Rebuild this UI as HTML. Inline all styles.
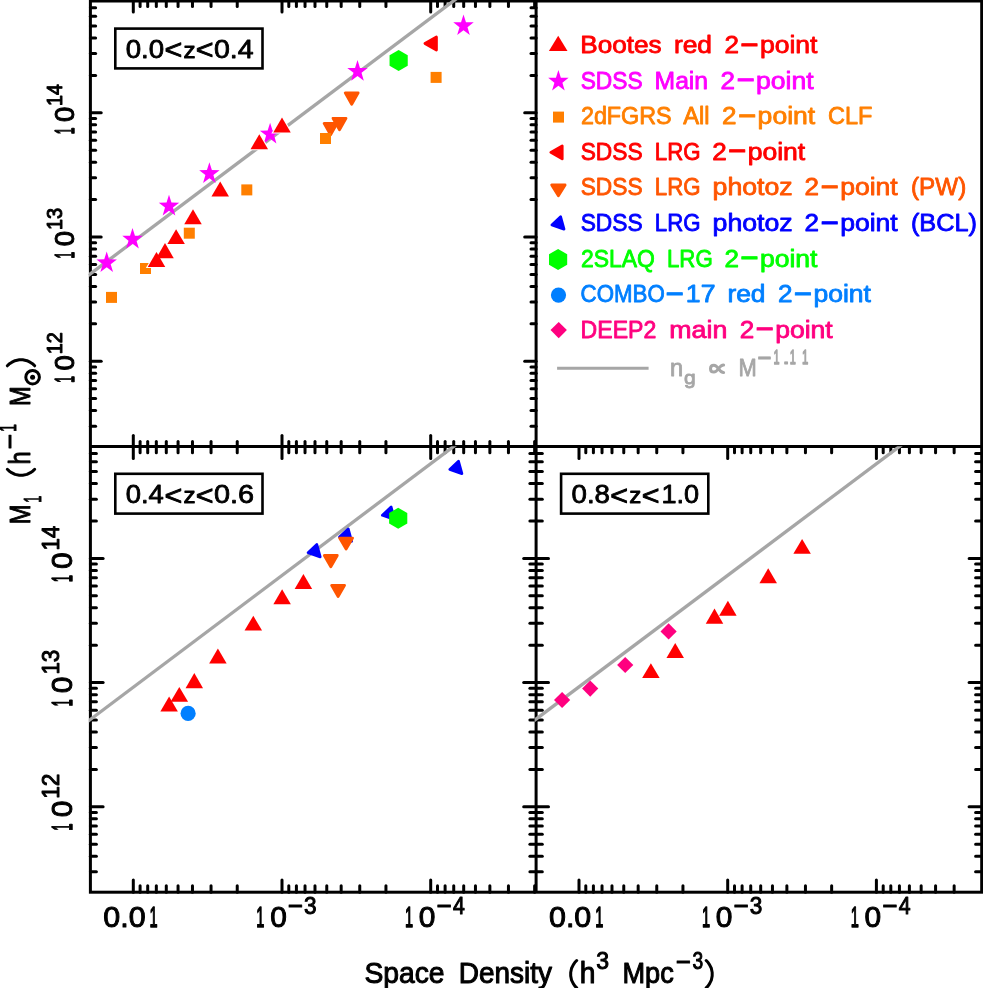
<!DOCTYPE html>
<html><head><meta charset="utf-8"><title>M1 vs Space Density</title>
<style>
html,body{margin:0;padding:0;background:#fff;}
body{width:983px;height:988px;overflow:hidden;position:relative;font-family:"Liberation Sans",sans-serif;}
svg{will-change:transform;}
svg text{font-family:"Liberation Sans",sans-serif;}
</style></head><body>
<svg width="983" height="988" viewBox="0 0 983 988" style="position:absolute;left:0;top:0">
<rect width="983" height="988" fill="#fff"/>
<g id="ticks">
<line x1="133.30" y1="1.00" x2="133.30" y2="12.10" stroke="#000" stroke-width="3.0" stroke-linecap="round"/>
<line x1="133.30" y1="435.50" x2="133.30" y2="458.60" stroke="#000" stroke-width="3.0" stroke-linecap="round"/>
<line x1="133.30" y1="892.20" x2="133.30" y2="879.90" stroke="#000" stroke-width="3.0" stroke-linecap="round"/>
<line x1="282.00" y1="1.00" x2="282.00" y2="12.10" stroke="#000" stroke-width="3.0" stroke-linecap="round"/>
<line x1="282.00" y1="435.50" x2="282.00" y2="458.60" stroke="#000" stroke-width="3.0" stroke-linecap="round"/>
<line x1="282.00" y1="892.20" x2="282.00" y2="879.90" stroke="#000" stroke-width="3.0" stroke-linecap="round"/>
<line x1="237.24" y1="1.00" x2="237.24" y2="6.60" stroke="#000" stroke-width="3.0" stroke-linecap="round"/>
<line x1="237.24" y1="441.40" x2="237.24" y2="452.80" stroke="#000" stroke-width="3.0" stroke-linecap="round"/>
<line x1="237.24" y1="892.20" x2="237.24" y2="885.70" stroke="#000" stroke-width="3.0" stroke-linecap="round"/>
<line x1="211.05" y1="1.00" x2="211.05" y2="6.60" stroke="#000" stroke-width="3.0" stroke-linecap="round"/>
<line x1="211.05" y1="441.40" x2="211.05" y2="452.80" stroke="#000" stroke-width="3.0" stroke-linecap="round"/>
<line x1="211.05" y1="892.20" x2="211.05" y2="885.70" stroke="#000" stroke-width="3.0" stroke-linecap="round"/>
<line x1="192.47" y1="1.00" x2="192.47" y2="6.60" stroke="#000" stroke-width="3.0" stroke-linecap="round"/>
<line x1="192.47" y1="441.40" x2="192.47" y2="452.80" stroke="#000" stroke-width="3.0" stroke-linecap="round"/>
<line x1="192.47" y1="892.20" x2="192.47" y2="885.70" stroke="#000" stroke-width="3.0" stroke-linecap="round"/>
<line x1="178.06" y1="1.00" x2="178.06" y2="6.60" stroke="#000" stroke-width="3.0" stroke-linecap="round"/>
<line x1="178.06" y1="441.40" x2="178.06" y2="452.80" stroke="#000" stroke-width="3.0" stroke-linecap="round"/>
<line x1="178.06" y1="892.20" x2="178.06" y2="885.70" stroke="#000" stroke-width="3.0" stroke-linecap="round"/>
<line x1="166.29" y1="1.00" x2="166.29" y2="6.60" stroke="#000" stroke-width="3.0" stroke-linecap="round"/>
<line x1="166.29" y1="441.40" x2="166.29" y2="452.80" stroke="#000" stroke-width="3.0" stroke-linecap="round"/>
<line x1="166.29" y1="892.20" x2="166.29" y2="885.70" stroke="#000" stroke-width="3.0" stroke-linecap="round"/>
<line x1="156.33" y1="1.00" x2="156.33" y2="6.60" stroke="#000" stroke-width="3.0" stroke-linecap="round"/>
<line x1="156.33" y1="441.40" x2="156.33" y2="452.80" stroke="#000" stroke-width="3.0" stroke-linecap="round"/>
<line x1="156.33" y1="892.20" x2="156.33" y2="885.70" stroke="#000" stroke-width="3.0" stroke-linecap="round"/>
<line x1="147.71" y1="1.00" x2="147.71" y2="6.60" stroke="#000" stroke-width="3.0" stroke-linecap="round"/>
<line x1="147.71" y1="441.40" x2="147.71" y2="452.80" stroke="#000" stroke-width="3.0" stroke-linecap="round"/>
<line x1="147.71" y1="892.20" x2="147.71" y2="885.70" stroke="#000" stroke-width="3.0" stroke-linecap="round"/>
<line x1="140.10" y1="1.00" x2="140.10" y2="6.60" stroke="#000" stroke-width="3.0" stroke-linecap="round"/>
<line x1="140.10" y1="441.40" x2="140.10" y2="452.80" stroke="#000" stroke-width="3.0" stroke-linecap="round"/>
<line x1="140.10" y1="892.20" x2="140.10" y2="885.70" stroke="#000" stroke-width="3.0" stroke-linecap="round"/>
<line x1="430.70" y1="1.00" x2="430.70" y2="12.10" stroke="#000" stroke-width="3.0" stroke-linecap="round"/>
<line x1="430.70" y1="435.50" x2="430.70" y2="458.60" stroke="#000" stroke-width="3.0" stroke-linecap="round"/>
<line x1="430.70" y1="892.20" x2="430.70" y2="879.90" stroke="#000" stroke-width="3.0" stroke-linecap="round"/>
<line x1="385.94" y1="1.00" x2="385.94" y2="6.60" stroke="#000" stroke-width="3.0" stroke-linecap="round"/>
<line x1="385.94" y1="441.40" x2="385.94" y2="452.80" stroke="#000" stroke-width="3.0" stroke-linecap="round"/>
<line x1="385.94" y1="892.20" x2="385.94" y2="885.70" stroke="#000" stroke-width="3.0" stroke-linecap="round"/>
<line x1="359.75" y1="1.00" x2="359.75" y2="6.60" stroke="#000" stroke-width="3.0" stroke-linecap="round"/>
<line x1="359.75" y1="441.40" x2="359.75" y2="452.80" stroke="#000" stroke-width="3.0" stroke-linecap="round"/>
<line x1="359.75" y1="892.20" x2="359.75" y2="885.70" stroke="#000" stroke-width="3.0" stroke-linecap="round"/>
<line x1="341.17" y1="1.00" x2="341.17" y2="6.60" stroke="#000" stroke-width="3.0" stroke-linecap="round"/>
<line x1="341.17" y1="441.40" x2="341.17" y2="452.80" stroke="#000" stroke-width="3.0" stroke-linecap="round"/>
<line x1="341.17" y1="892.20" x2="341.17" y2="885.70" stroke="#000" stroke-width="3.0" stroke-linecap="round"/>
<line x1="326.76" y1="1.00" x2="326.76" y2="6.60" stroke="#000" stroke-width="3.0" stroke-linecap="round"/>
<line x1="326.76" y1="441.40" x2="326.76" y2="452.80" stroke="#000" stroke-width="3.0" stroke-linecap="round"/>
<line x1="326.76" y1="892.20" x2="326.76" y2="885.70" stroke="#000" stroke-width="3.0" stroke-linecap="round"/>
<line x1="314.99" y1="1.00" x2="314.99" y2="6.60" stroke="#000" stroke-width="3.0" stroke-linecap="round"/>
<line x1="314.99" y1="441.40" x2="314.99" y2="452.80" stroke="#000" stroke-width="3.0" stroke-linecap="round"/>
<line x1="314.99" y1="892.20" x2="314.99" y2="885.70" stroke="#000" stroke-width="3.0" stroke-linecap="round"/>
<line x1="305.03" y1="1.00" x2="305.03" y2="6.60" stroke="#000" stroke-width="3.0" stroke-linecap="round"/>
<line x1="305.03" y1="441.40" x2="305.03" y2="452.80" stroke="#000" stroke-width="3.0" stroke-linecap="round"/>
<line x1="305.03" y1="892.20" x2="305.03" y2="885.70" stroke="#000" stroke-width="3.0" stroke-linecap="round"/>
<line x1="296.41" y1="1.00" x2="296.41" y2="6.60" stroke="#000" stroke-width="3.0" stroke-linecap="round"/>
<line x1="296.41" y1="441.40" x2="296.41" y2="452.80" stroke="#000" stroke-width="3.0" stroke-linecap="round"/>
<line x1="296.41" y1="892.20" x2="296.41" y2="885.70" stroke="#000" stroke-width="3.0" stroke-linecap="round"/>
<line x1="288.80" y1="1.00" x2="288.80" y2="6.60" stroke="#000" stroke-width="3.0" stroke-linecap="round"/>
<line x1="288.80" y1="441.40" x2="288.80" y2="452.80" stroke="#000" stroke-width="3.0" stroke-linecap="round"/>
<line x1="288.80" y1="892.20" x2="288.80" y2="885.70" stroke="#000" stroke-width="3.0" stroke-linecap="round"/>
<line x1="534.64" y1="1.00" x2="534.64" y2="6.60" stroke="#000" stroke-width="3.0" stroke-linecap="round"/>
<line x1="534.64" y1="441.40" x2="534.64" y2="452.80" stroke="#000" stroke-width="3.0" stroke-linecap="round"/>
<line x1="534.64" y1="892.20" x2="534.64" y2="885.70" stroke="#000" stroke-width="3.0" stroke-linecap="round"/>
<line x1="508.45" y1="1.00" x2="508.45" y2="6.60" stroke="#000" stroke-width="3.0" stroke-linecap="round"/>
<line x1="508.45" y1="441.40" x2="508.45" y2="452.80" stroke="#000" stroke-width="3.0" stroke-linecap="round"/>
<line x1="508.45" y1="892.20" x2="508.45" y2="885.70" stroke="#000" stroke-width="3.0" stroke-linecap="round"/>
<line x1="489.87" y1="1.00" x2="489.87" y2="6.60" stroke="#000" stroke-width="3.0" stroke-linecap="round"/>
<line x1="489.87" y1="441.40" x2="489.87" y2="452.80" stroke="#000" stroke-width="3.0" stroke-linecap="round"/>
<line x1="489.87" y1="892.20" x2="489.87" y2="885.70" stroke="#000" stroke-width="3.0" stroke-linecap="round"/>
<line x1="475.46" y1="1.00" x2="475.46" y2="6.60" stroke="#000" stroke-width="3.0" stroke-linecap="round"/>
<line x1="475.46" y1="441.40" x2="475.46" y2="452.80" stroke="#000" stroke-width="3.0" stroke-linecap="round"/>
<line x1="475.46" y1="892.20" x2="475.46" y2="885.70" stroke="#000" stroke-width="3.0" stroke-linecap="round"/>
<line x1="463.69" y1="1.00" x2="463.69" y2="6.60" stroke="#000" stroke-width="3.0" stroke-linecap="round"/>
<line x1="463.69" y1="441.40" x2="463.69" y2="452.80" stroke="#000" stroke-width="3.0" stroke-linecap="round"/>
<line x1="463.69" y1="892.20" x2="463.69" y2="885.70" stroke="#000" stroke-width="3.0" stroke-linecap="round"/>
<line x1="453.73" y1="1.00" x2="453.73" y2="6.60" stroke="#000" stroke-width="3.0" stroke-linecap="round"/>
<line x1="453.73" y1="441.40" x2="453.73" y2="452.80" stroke="#000" stroke-width="3.0" stroke-linecap="round"/>
<line x1="453.73" y1="892.20" x2="453.73" y2="885.70" stroke="#000" stroke-width="3.0" stroke-linecap="round"/>
<line x1="445.11" y1="1.00" x2="445.11" y2="6.60" stroke="#000" stroke-width="3.0" stroke-linecap="round"/>
<line x1="445.11" y1="441.40" x2="445.11" y2="452.80" stroke="#000" stroke-width="3.0" stroke-linecap="round"/>
<line x1="445.11" y1="892.20" x2="445.11" y2="885.70" stroke="#000" stroke-width="3.0" stroke-linecap="round"/>
<line x1="437.50" y1="1.00" x2="437.50" y2="6.60" stroke="#000" stroke-width="3.0" stroke-linecap="round"/>
<line x1="437.50" y1="441.40" x2="437.50" y2="452.80" stroke="#000" stroke-width="3.0" stroke-linecap="round"/>
<line x1="437.50" y1="892.20" x2="437.50" y2="885.70" stroke="#000" stroke-width="3.0" stroke-linecap="round"/>
<line x1="579.00" y1="446.60" x2="579.00" y2="458.60" stroke="#000" stroke-width="3.0" stroke-linecap="round"/>
<line x1="579.00" y1="892.20" x2="579.00" y2="879.90" stroke="#000" stroke-width="3.0" stroke-linecap="round"/>
<line x1="727.70" y1="446.60" x2="727.70" y2="458.60" stroke="#000" stroke-width="3.0" stroke-linecap="round"/>
<line x1="727.70" y1="892.20" x2="727.70" y2="879.90" stroke="#000" stroke-width="3.0" stroke-linecap="round"/>
<line x1="682.94" y1="446.60" x2="682.94" y2="452.80" stroke="#000" stroke-width="3.0" stroke-linecap="round"/>
<line x1="682.94" y1="892.20" x2="682.94" y2="885.70" stroke="#000" stroke-width="3.0" stroke-linecap="round"/>
<line x1="656.75" y1="446.60" x2="656.75" y2="452.80" stroke="#000" stroke-width="3.0" stroke-linecap="round"/>
<line x1="656.75" y1="892.20" x2="656.75" y2="885.70" stroke="#000" stroke-width="3.0" stroke-linecap="round"/>
<line x1="638.17" y1="446.60" x2="638.17" y2="452.80" stroke="#000" stroke-width="3.0" stroke-linecap="round"/>
<line x1="638.17" y1="892.20" x2="638.17" y2="885.70" stroke="#000" stroke-width="3.0" stroke-linecap="round"/>
<line x1="623.76" y1="446.60" x2="623.76" y2="452.80" stroke="#000" stroke-width="3.0" stroke-linecap="round"/>
<line x1="623.76" y1="892.20" x2="623.76" y2="885.70" stroke="#000" stroke-width="3.0" stroke-linecap="round"/>
<line x1="611.99" y1="446.60" x2="611.99" y2="452.80" stroke="#000" stroke-width="3.0" stroke-linecap="round"/>
<line x1="611.99" y1="892.20" x2="611.99" y2="885.70" stroke="#000" stroke-width="3.0" stroke-linecap="round"/>
<line x1="602.03" y1="446.60" x2="602.03" y2="452.80" stroke="#000" stroke-width="3.0" stroke-linecap="round"/>
<line x1="602.03" y1="892.20" x2="602.03" y2="885.70" stroke="#000" stroke-width="3.0" stroke-linecap="round"/>
<line x1="593.41" y1="446.60" x2="593.41" y2="452.80" stroke="#000" stroke-width="3.0" stroke-linecap="round"/>
<line x1="593.41" y1="892.20" x2="593.41" y2="885.70" stroke="#000" stroke-width="3.0" stroke-linecap="round"/>
<line x1="585.80" y1="446.60" x2="585.80" y2="452.80" stroke="#000" stroke-width="3.0" stroke-linecap="round"/>
<line x1="585.80" y1="892.20" x2="585.80" y2="885.70" stroke="#000" stroke-width="3.0" stroke-linecap="round"/>
<line x1="876.40" y1="446.60" x2="876.40" y2="458.60" stroke="#000" stroke-width="3.0" stroke-linecap="round"/>
<line x1="876.40" y1="892.20" x2="876.40" y2="879.90" stroke="#000" stroke-width="3.0" stroke-linecap="round"/>
<line x1="831.64" y1="446.60" x2="831.64" y2="452.80" stroke="#000" stroke-width="3.0" stroke-linecap="round"/>
<line x1="831.64" y1="892.20" x2="831.64" y2="885.70" stroke="#000" stroke-width="3.0" stroke-linecap="round"/>
<line x1="805.45" y1="446.60" x2="805.45" y2="452.80" stroke="#000" stroke-width="3.0" stroke-linecap="round"/>
<line x1="805.45" y1="892.20" x2="805.45" y2="885.70" stroke="#000" stroke-width="3.0" stroke-linecap="round"/>
<line x1="786.87" y1="446.60" x2="786.87" y2="452.80" stroke="#000" stroke-width="3.0" stroke-linecap="round"/>
<line x1="786.87" y1="892.20" x2="786.87" y2="885.70" stroke="#000" stroke-width="3.0" stroke-linecap="round"/>
<line x1="772.46" y1="446.60" x2="772.46" y2="452.80" stroke="#000" stroke-width="3.0" stroke-linecap="round"/>
<line x1="772.46" y1="892.20" x2="772.46" y2="885.70" stroke="#000" stroke-width="3.0" stroke-linecap="round"/>
<line x1="760.69" y1="446.60" x2="760.69" y2="452.80" stroke="#000" stroke-width="3.0" stroke-linecap="round"/>
<line x1="760.69" y1="892.20" x2="760.69" y2="885.70" stroke="#000" stroke-width="3.0" stroke-linecap="round"/>
<line x1="750.73" y1="446.60" x2="750.73" y2="452.80" stroke="#000" stroke-width="3.0" stroke-linecap="round"/>
<line x1="750.73" y1="892.20" x2="750.73" y2="885.70" stroke="#000" stroke-width="3.0" stroke-linecap="round"/>
<line x1="742.11" y1="446.60" x2="742.11" y2="452.80" stroke="#000" stroke-width="3.0" stroke-linecap="round"/>
<line x1="742.11" y1="892.20" x2="742.11" y2="885.70" stroke="#000" stroke-width="3.0" stroke-linecap="round"/>
<line x1="734.50" y1="446.60" x2="734.50" y2="452.80" stroke="#000" stroke-width="3.0" stroke-linecap="round"/>
<line x1="734.50" y1="892.20" x2="734.50" y2="885.70" stroke="#000" stroke-width="3.0" stroke-linecap="round"/>
<line x1="954.15" y1="446.60" x2="954.15" y2="452.80" stroke="#000" stroke-width="3.0" stroke-linecap="round"/>
<line x1="954.15" y1="892.20" x2="954.15" y2="885.70" stroke="#000" stroke-width="3.0" stroke-linecap="round"/>
<line x1="935.57" y1="446.60" x2="935.57" y2="452.80" stroke="#000" stroke-width="3.0" stroke-linecap="round"/>
<line x1="935.57" y1="892.20" x2="935.57" y2="885.70" stroke="#000" stroke-width="3.0" stroke-linecap="round"/>
<line x1="921.16" y1="446.60" x2="921.16" y2="452.80" stroke="#000" stroke-width="3.0" stroke-linecap="round"/>
<line x1="921.16" y1="892.20" x2="921.16" y2="885.70" stroke="#000" stroke-width="3.0" stroke-linecap="round"/>
<line x1="909.39" y1="446.60" x2="909.39" y2="452.80" stroke="#000" stroke-width="3.0" stroke-linecap="round"/>
<line x1="909.39" y1="892.20" x2="909.39" y2="885.70" stroke="#000" stroke-width="3.0" stroke-linecap="round"/>
<line x1="899.43" y1="446.60" x2="899.43" y2="452.80" stroke="#000" stroke-width="3.0" stroke-linecap="round"/>
<line x1="899.43" y1="892.20" x2="899.43" y2="885.70" stroke="#000" stroke-width="3.0" stroke-linecap="round"/>
<line x1="890.81" y1="446.60" x2="890.81" y2="452.80" stroke="#000" stroke-width="3.0" stroke-linecap="round"/>
<line x1="890.81" y1="892.20" x2="890.81" y2="885.70" stroke="#000" stroke-width="3.0" stroke-linecap="round"/>
<line x1="883.20" y1="446.60" x2="883.20" y2="452.80" stroke="#000" stroke-width="3.0" stroke-linecap="round"/>
<line x1="883.20" y1="892.20" x2="883.20" y2="885.70" stroke="#000" stroke-width="3.0" stroke-linecap="round"/>
<line x1="90.40" y1="426.14" x2="95.60" y2="426.14" stroke="#000" stroke-width="3.0" stroke-linecap="round"/>
<line x1="536.10" y1="426.14" x2="531.00" y2="426.14" stroke="#000" stroke-width="3.0" stroke-linecap="round"/>
<line x1="90.40" y1="410.62" x2="95.60" y2="410.62" stroke="#000" stroke-width="3.0" stroke-linecap="round"/>
<line x1="536.10" y1="410.62" x2="531.00" y2="410.62" stroke="#000" stroke-width="3.0" stroke-linecap="round"/>
<line x1="90.40" y1="398.59" x2="95.60" y2="398.59" stroke="#000" stroke-width="3.0" stroke-linecap="round"/>
<line x1="536.10" y1="398.59" x2="531.00" y2="398.59" stroke="#000" stroke-width="3.0" stroke-linecap="round"/>
<line x1="90.40" y1="388.75" x2="95.60" y2="388.75" stroke="#000" stroke-width="3.0" stroke-linecap="round"/>
<line x1="536.10" y1="388.75" x2="531.00" y2="388.75" stroke="#000" stroke-width="3.0" stroke-linecap="round"/>
<line x1="90.40" y1="380.44" x2="95.60" y2="380.44" stroke="#000" stroke-width="3.0" stroke-linecap="round"/>
<line x1="536.10" y1="380.44" x2="531.00" y2="380.44" stroke="#000" stroke-width="3.0" stroke-linecap="round"/>
<line x1="90.40" y1="373.24" x2="95.60" y2="373.24" stroke="#000" stroke-width="3.0" stroke-linecap="round"/>
<line x1="536.10" y1="373.24" x2="531.00" y2="373.24" stroke="#000" stroke-width="3.0" stroke-linecap="round"/>
<line x1="90.40" y1="366.88" x2="95.60" y2="366.88" stroke="#000" stroke-width="3.0" stroke-linecap="round"/>
<line x1="536.10" y1="366.88" x2="531.00" y2="366.88" stroke="#000" stroke-width="3.0" stroke-linecap="round"/>
<line x1="90.40" y1="361.20" x2="101.20" y2="361.20" stroke="#000" stroke-width="3.0" stroke-linecap="round"/>
<line x1="536.10" y1="361.20" x2="524.70" y2="361.20" stroke="#000" stroke-width="3.0" stroke-linecap="round"/>
<line x1="90.40" y1="323.81" x2="95.60" y2="323.81" stroke="#000" stroke-width="3.0" stroke-linecap="round"/>
<line x1="536.10" y1="323.81" x2="531.00" y2="323.81" stroke="#000" stroke-width="3.0" stroke-linecap="round"/>
<line x1="90.40" y1="301.94" x2="95.60" y2="301.94" stroke="#000" stroke-width="3.0" stroke-linecap="round"/>
<line x1="536.10" y1="301.94" x2="531.00" y2="301.94" stroke="#000" stroke-width="3.0" stroke-linecap="round"/>
<line x1="90.40" y1="286.42" x2="95.60" y2="286.42" stroke="#000" stroke-width="3.0" stroke-linecap="round"/>
<line x1="536.10" y1="286.42" x2="531.00" y2="286.42" stroke="#000" stroke-width="3.0" stroke-linecap="round"/>
<line x1="90.40" y1="274.39" x2="95.60" y2="274.39" stroke="#000" stroke-width="3.0" stroke-linecap="round"/>
<line x1="536.10" y1="274.39" x2="531.00" y2="274.39" stroke="#000" stroke-width="3.0" stroke-linecap="round"/>
<line x1="90.40" y1="264.55" x2="95.60" y2="264.55" stroke="#000" stroke-width="3.0" stroke-linecap="round"/>
<line x1="536.10" y1="264.55" x2="531.00" y2="264.55" stroke="#000" stroke-width="3.0" stroke-linecap="round"/>
<line x1="90.40" y1="256.24" x2="95.60" y2="256.24" stroke="#000" stroke-width="3.0" stroke-linecap="round"/>
<line x1="536.10" y1="256.24" x2="531.00" y2="256.24" stroke="#000" stroke-width="3.0" stroke-linecap="round"/>
<line x1="90.40" y1="249.04" x2="95.60" y2="249.04" stroke="#000" stroke-width="3.0" stroke-linecap="round"/>
<line x1="536.10" y1="249.04" x2="531.00" y2="249.04" stroke="#000" stroke-width="3.0" stroke-linecap="round"/>
<line x1="90.40" y1="242.68" x2="95.60" y2="242.68" stroke="#000" stroke-width="3.0" stroke-linecap="round"/>
<line x1="536.10" y1="242.68" x2="531.00" y2="242.68" stroke="#000" stroke-width="3.0" stroke-linecap="round"/>
<line x1="90.40" y1="237.00" x2="101.20" y2="237.00" stroke="#000" stroke-width="3.0" stroke-linecap="round"/>
<line x1="536.10" y1="237.00" x2="524.70" y2="237.00" stroke="#000" stroke-width="3.0" stroke-linecap="round"/>
<line x1="90.40" y1="199.61" x2="95.60" y2="199.61" stroke="#000" stroke-width="3.0" stroke-linecap="round"/>
<line x1="536.10" y1="199.61" x2="531.00" y2="199.61" stroke="#000" stroke-width="3.0" stroke-linecap="round"/>
<line x1="90.40" y1="177.74" x2="95.60" y2="177.74" stroke="#000" stroke-width="3.0" stroke-linecap="round"/>
<line x1="536.10" y1="177.74" x2="531.00" y2="177.74" stroke="#000" stroke-width="3.0" stroke-linecap="round"/>
<line x1="90.40" y1="162.22" x2="95.60" y2="162.22" stroke="#000" stroke-width="3.0" stroke-linecap="round"/>
<line x1="536.10" y1="162.22" x2="531.00" y2="162.22" stroke="#000" stroke-width="3.0" stroke-linecap="round"/>
<line x1="90.40" y1="150.19" x2="95.60" y2="150.19" stroke="#000" stroke-width="3.0" stroke-linecap="round"/>
<line x1="536.10" y1="150.19" x2="531.00" y2="150.19" stroke="#000" stroke-width="3.0" stroke-linecap="round"/>
<line x1="90.40" y1="140.35" x2="95.60" y2="140.35" stroke="#000" stroke-width="3.0" stroke-linecap="round"/>
<line x1="536.10" y1="140.35" x2="531.00" y2="140.35" stroke="#000" stroke-width="3.0" stroke-linecap="round"/>
<line x1="90.40" y1="132.04" x2="95.60" y2="132.04" stroke="#000" stroke-width="3.0" stroke-linecap="round"/>
<line x1="536.10" y1="132.04" x2="531.00" y2="132.04" stroke="#000" stroke-width="3.0" stroke-linecap="round"/>
<line x1="90.40" y1="124.84" x2="95.60" y2="124.84" stroke="#000" stroke-width="3.0" stroke-linecap="round"/>
<line x1="536.10" y1="124.84" x2="531.00" y2="124.84" stroke="#000" stroke-width="3.0" stroke-linecap="round"/>
<line x1="90.40" y1="118.48" x2="95.60" y2="118.48" stroke="#000" stroke-width="3.0" stroke-linecap="round"/>
<line x1="536.10" y1="118.48" x2="531.00" y2="118.48" stroke="#000" stroke-width="3.0" stroke-linecap="round"/>
<line x1="90.40" y1="112.80" x2="101.20" y2="112.80" stroke="#000" stroke-width="3.0" stroke-linecap="round"/>
<line x1="536.10" y1="112.80" x2="524.70" y2="112.80" stroke="#000" stroke-width="3.0" stroke-linecap="round"/>
<line x1="90.40" y1="75.41" x2="95.60" y2="75.41" stroke="#000" stroke-width="3.0" stroke-linecap="round"/>
<line x1="536.10" y1="75.41" x2="531.00" y2="75.41" stroke="#000" stroke-width="3.0" stroke-linecap="round"/>
<line x1="90.40" y1="53.54" x2="95.60" y2="53.54" stroke="#000" stroke-width="3.0" stroke-linecap="round"/>
<line x1="536.10" y1="53.54" x2="531.00" y2="53.54" stroke="#000" stroke-width="3.0" stroke-linecap="round"/>
<line x1="90.40" y1="38.02" x2="95.60" y2="38.02" stroke="#000" stroke-width="3.0" stroke-linecap="round"/>
<line x1="536.10" y1="38.02" x2="531.00" y2="38.02" stroke="#000" stroke-width="3.0" stroke-linecap="round"/>
<line x1="90.40" y1="25.99" x2="95.60" y2="25.99" stroke="#000" stroke-width="3.0" stroke-linecap="round"/>
<line x1="536.10" y1="25.99" x2="531.00" y2="25.99" stroke="#000" stroke-width="3.0" stroke-linecap="round"/>
<line x1="90.40" y1="16.15" x2="95.60" y2="16.15" stroke="#000" stroke-width="3.0" stroke-linecap="round"/>
<line x1="536.10" y1="16.15" x2="531.00" y2="16.15" stroke="#000" stroke-width="3.0" stroke-linecap="round"/>
<line x1="90.40" y1="7.84" x2="95.60" y2="7.84" stroke="#000" stroke-width="3.0" stroke-linecap="round"/>
<line x1="536.10" y1="7.84" x2="531.00" y2="7.84" stroke="#000" stroke-width="3.0" stroke-linecap="round"/>
<line x1="90.40" y1="871.74" x2="96.40" y2="871.74" stroke="#000" stroke-width="3.0" stroke-linecap="round"/>
<line x1="529.90" y1="871.74" x2="542.30" y2="871.74" stroke="#000" stroke-width="3.0" stroke-linecap="round"/>
<line x1="981.70" y1="871.74" x2="975.60" y2="871.74" stroke="#000" stroke-width="3.0" stroke-linecap="round"/>
<line x1="90.40" y1="856.22" x2="96.40" y2="856.22" stroke="#000" stroke-width="3.0" stroke-linecap="round"/>
<line x1="529.90" y1="856.22" x2="542.30" y2="856.22" stroke="#000" stroke-width="3.0" stroke-linecap="round"/>
<line x1="981.70" y1="856.22" x2="975.60" y2="856.22" stroke="#000" stroke-width="3.0" stroke-linecap="round"/>
<line x1="90.40" y1="844.19" x2="96.40" y2="844.19" stroke="#000" stroke-width="3.0" stroke-linecap="round"/>
<line x1="529.90" y1="844.19" x2="542.30" y2="844.19" stroke="#000" stroke-width="3.0" stroke-linecap="round"/>
<line x1="981.70" y1="844.19" x2="975.60" y2="844.19" stroke="#000" stroke-width="3.0" stroke-linecap="round"/>
<line x1="90.40" y1="834.35" x2="96.40" y2="834.35" stroke="#000" stroke-width="3.0" stroke-linecap="round"/>
<line x1="529.90" y1="834.35" x2="542.30" y2="834.35" stroke="#000" stroke-width="3.0" stroke-linecap="round"/>
<line x1="981.70" y1="834.35" x2="975.60" y2="834.35" stroke="#000" stroke-width="3.0" stroke-linecap="round"/>
<line x1="90.40" y1="826.04" x2="96.40" y2="826.04" stroke="#000" stroke-width="3.0" stroke-linecap="round"/>
<line x1="529.90" y1="826.04" x2="542.30" y2="826.04" stroke="#000" stroke-width="3.0" stroke-linecap="round"/>
<line x1="981.70" y1="826.04" x2="975.60" y2="826.04" stroke="#000" stroke-width="3.0" stroke-linecap="round"/>
<line x1="90.40" y1="818.84" x2="96.40" y2="818.84" stroke="#000" stroke-width="3.0" stroke-linecap="round"/>
<line x1="529.90" y1="818.84" x2="542.30" y2="818.84" stroke="#000" stroke-width="3.0" stroke-linecap="round"/>
<line x1="981.70" y1="818.84" x2="975.60" y2="818.84" stroke="#000" stroke-width="3.0" stroke-linecap="round"/>
<line x1="90.40" y1="812.48" x2="96.40" y2="812.48" stroke="#000" stroke-width="3.0" stroke-linecap="round"/>
<line x1="529.90" y1="812.48" x2="542.30" y2="812.48" stroke="#000" stroke-width="3.0" stroke-linecap="round"/>
<line x1="981.70" y1="812.48" x2="975.60" y2="812.48" stroke="#000" stroke-width="3.0" stroke-linecap="round"/>
<line x1="90.40" y1="806.80" x2="103.10" y2="806.80" stroke="#000" stroke-width="3.0" stroke-linecap="round"/>
<line x1="523.70" y1="806.80" x2="548.50" y2="806.80" stroke="#000" stroke-width="3.0" stroke-linecap="round"/>
<line x1="981.70" y1="806.80" x2="969.10" y2="806.80" stroke="#000" stroke-width="3.0" stroke-linecap="round"/>
<line x1="90.40" y1="769.41" x2="96.40" y2="769.41" stroke="#000" stroke-width="3.0" stroke-linecap="round"/>
<line x1="529.90" y1="769.41" x2="542.30" y2="769.41" stroke="#000" stroke-width="3.0" stroke-linecap="round"/>
<line x1="981.70" y1="769.41" x2="975.60" y2="769.41" stroke="#000" stroke-width="3.0" stroke-linecap="round"/>
<line x1="90.40" y1="747.54" x2="96.40" y2="747.54" stroke="#000" stroke-width="3.0" stroke-linecap="round"/>
<line x1="529.90" y1="747.54" x2="542.30" y2="747.54" stroke="#000" stroke-width="3.0" stroke-linecap="round"/>
<line x1="981.70" y1="747.54" x2="975.60" y2="747.54" stroke="#000" stroke-width="3.0" stroke-linecap="round"/>
<line x1="90.40" y1="732.02" x2="96.40" y2="732.02" stroke="#000" stroke-width="3.0" stroke-linecap="round"/>
<line x1="529.90" y1="732.02" x2="542.30" y2="732.02" stroke="#000" stroke-width="3.0" stroke-linecap="round"/>
<line x1="981.70" y1="732.02" x2="975.60" y2="732.02" stroke="#000" stroke-width="3.0" stroke-linecap="round"/>
<line x1="90.40" y1="719.99" x2="96.40" y2="719.99" stroke="#000" stroke-width="3.0" stroke-linecap="round"/>
<line x1="529.90" y1="719.99" x2="542.30" y2="719.99" stroke="#000" stroke-width="3.0" stroke-linecap="round"/>
<line x1="981.70" y1="719.99" x2="975.60" y2="719.99" stroke="#000" stroke-width="3.0" stroke-linecap="round"/>
<line x1="90.40" y1="710.15" x2="96.40" y2="710.15" stroke="#000" stroke-width="3.0" stroke-linecap="round"/>
<line x1="529.90" y1="710.15" x2="542.30" y2="710.15" stroke="#000" stroke-width="3.0" stroke-linecap="round"/>
<line x1="981.70" y1="710.15" x2="975.60" y2="710.15" stroke="#000" stroke-width="3.0" stroke-linecap="round"/>
<line x1="90.40" y1="701.84" x2="96.40" y2="701.84" stroke="#000" stroke-width="3.0" stroke-linecap="round"/>
<line x1="529.90" y1="701.84" x2="542.30" y2="701.84" stroke="#000" stroke-width="3.0" stroke-linecap="round"/>
<line x1="981.70" y1="701.84" x2="975.60" y2="701.84" stroke="#000" stroke-width="3.0" stroke-linecap="round"/>
<line x1="90.40" y1="694.64" x2="96.40" y2="694.64" stroke="#000" stroke-width="3.0" stroke-linecap="round"/>
<line x1="529.90" y1="694.64" x2="542.30" y2="694.64" stroke="#000" stroke-width="3.0" stroke-linecap="round"/>
<line x1="981.70" y1="694.64" x2="975.60" y2="694.64" stroke="#000" stroke-width="3.0" stroke-linecap="round"/>
<line x1="90.40" y1="688.28" x2="96.40" y2="688.28" stroke="#000" stroke-width="3.0" stroke-linecap="round"/>
<line x1="529.90" y1="688.28" x2="542.30" y2="688.28" stroke="#000" stroke-width="3.0" stroke-linecap="round"/>
<line x1="981.70" y1="688.28" x2="975.60" y2="688.28" stroke="#000" stroke-width="3.0" stroke-linecap="round"/>
<line x1="90.40" y1="682.60" x2="103.10" y2="682.60" stroke="#000" stroke-width="3.0" stroke-linecap="round"/>
<line x1="523.70" y1="682.60" x2="548.50" y2="682.60" stroke="#000" stroke-width="3.0" stroke-linecap="round"/>
<line x1="981.70" y1="682.60" x2="969.10" y2="682.60" stroke="#000" stroke-width="3.0" stroke-linecap="round"/>
<line x1="90.40" y1="645.21" x2="96.40" y2="645.21" stroke="#000" stroke-width="3.0" stroke-linecap="round"/>
<line x1="529.90" y1="645.21" x2="542.30" y2="645.21" stroke="#000" stroke-width="3.0" stroke-linecap="round"/>
<line x1="981.70" y1="645.21" x2="975.60" y2="645.21" stroke="#000" stroke-width="3.0" stroke-linecap="round"/>
<line x1="90.40" y1="623.34" x2="96.40" y2="623.34" stroke="#000" stroke-width="3.0" stroke-linecap="round"/>
<line x1="529.90" y1="623.34" x2="542.30" y2="623.34" stroke="#000" stroke-width="3.0" stroke-linecap="round"/>
<line x1="981.70" y1="623.34" x2="975.60" y2="623.34" stroke="#000" stroke-width="3.0" stroke-linecap="round"/>
<line x1="90.40" y1="607.82" x2="96.40" y2="607.82" stroke="#000" stroke-width="3.0" stroke-linecap="round"/>
<line x1="529.90" y1="607.82" x2="542.30" y2="607.82" stroke="#000" stroke-width="3.0" stroke-linecap="round"/>
<line x1="981.70" y1="607.82" x2="975.60" y2="607.82" stroke="#000" stroke-width="3.0" stroke-linecap="round"/>
<line x1="90.40" y1="595.79" x2="96.40" y2="595.79" stroke="#000" stroke-width="3.0" stroke-linecap="round"/>
<line x1="529.90" y1="595.79" x2="542.30" y2="595.79" stroke="#000" stroke-width="3.0" stroke-linecap="round"/>
<line x1="981.70" y1="595.79" x2="975.60" y2="595.79" stroke="#000" stroke-width="3.0" stroke-linecap="round"/>
<line x1="90.40" y1="585.95" x2="96.40" y2="585.95" stroke="#000" stroke-width="3.0" stroke-linecap="round"/>
<line x1="529.90" y1="585.95" x2="542.30" y2="585.95" stroke="#000" stroke-width="3.0" stroke-linecap="round"/>
<line x1="981.70" y1="585.95" x2="975.60" y2="585.95" stroke="#000" stroke-width="3.0" stroke-linecap="round"/>
<line x1="90.40" y1="577.64" x2="96.40" y2="577.64" stroke="#000" stroke-width="3.0" stroke-linecap="round"/>
<line x1="529.90" y1="577.64" x2="542.30" y2="577.64" stroke="#000" stroke-width="3.0" stroke-linecap="round"/>
<line x1="981.70" y1="577.64" x2="975.60" y2="577.64" stroke="#000" stroke-width="3.0" stroke-linecap="round"/>
<line x1="90.40" y1="570.44" x2="96.40" y2="570.44" stroke="#000" stroke-width="3.0" stroke-linecap="round"/>
<line x1="529.90" y1="570.44" x2="542.30" y2="570.44" stroke="#000" stroke-width="3.0" stroke-linecap="round"/>
<line x1="981.70" y1="570.44" x2="975.60" y2="570.44" stroke="#000" stroke-width="3.0" stroke-linecap="round"/>
<line x1="90.40" y1="564.08" x2="96.40" y2="564.08" stroke="#000" stroke-width="3.0" stroke-linecap="round"/>
<line x1="529.90" y1="564.08" x2="542.30" y2="564.08" stroke="#000" stroke-width="3.0" stroke-linecap="round"/>
<line x1="981.70" y1="564.08" x2="975.60" y2="564.08" stroke="#000" stroke-width="3.0" stroke-linecap="round"/>
<line x1="90.40" y1="558.40" x2="103.10" y2="558.40" stroke="#000" stroke-width="3.0" stroke-linecap="round"/>
<line x1="523.70" y1="558.40" x2="548.50" y2="558.40" stroke="#000" stroke-width="3.0" stroke-linecap="round"/>
<line x1="981.70" y1="558.40" x2="969.10" y2="558.40" stroke="#000" stroke-width="3.0" stroke-linecap="round"/>
<line x1="90.40" y1="521.01" x2="96.40" y2="521.01" stroke="#000" stroke-width="3.0" stroke-linecap="round"/>
<line x1="529.90" y1="521.01" x2="542.30" y2="521.01" stroke="#000" stroke-width="3.0" stroke-linecap="round"/>
<line x1="981.70" y1="521.01" x2="975.60" y2="521.01" stroke="#000" stroke-width="3.0" stroke-linecap="round"/>
<line x1="90.40" y1="499.14" x2="96.40" y2="499.14" stroke="#000" stroke-width="3.0" stroke-linecap="round"/>
<line x1="529.90" y1="499.14" x2="542.30" y2="499.14" stroke="#000" stroke-width="3.0" stroke-linecap="round"/>
<line x1="981.70" y1="499.14" x2="975.60" y2="499.14" stroke="#000" stroke-width="3.0" stroke-linecap="round"/>
<line x1="90.40" y1="483.62" x2="96.40" y2="483.62" stroke="#000" stroke-width="3.0" stroke-linecap="round"/>
<line x1="529.90" y1="483.62" x2="542.30" y2="483.62" stroke="#000" stroke-width="3.0" stroke-linecap="round"/>
<line x1="981.70" y1="483.62" x2="975.60" y2="483.62" stroke="#000" stroke-width="3.0" stroke-linecap="round"/>
<line x1="90.40" y1="471.59" x2="96.40" y2="471.59" stroke="#000" stroke-width="3.0" stroke-linecap="round"/>
<line x1="529.90" y1="471.59" x2="542.30" y2="471.59" stroke="#000" stroke-width="3.0" stroke-linecap="round"/>
<line x1="981.70" y1="471.59" x2="975.60" y2="471.59" stroke="#000" stroke-width="3.0" stroke-linecap="round"/>
<line x1="90.40" y1="461.75" x2="96.40" y2="461.75" stroke="#000" stroke-width="3.0" stroke-linecap="round"/>
<line x1="529.90" y1="461.75" x2="542.30" y2="461.75" stroke="#000" stroke-width="3.0" stroke-linecap="round"/>
<line x1="981.70" y1="461.75" x2="975.60" y2="461.75" stroke="#000" stroke-width="3.0" stroke-linecap="round"/>
<line x1="90.40" y1="453.44" x2="96.40" y2="453.44" stroke="#000" stroke-width="3.0" stroke-linecap="round"/>
<line x1="529.90" y1="453.44" x2="542.30" y2="453.44" stroke="#000" stroke-width="3.0" stroke-linecap="round"/>
<line x1="981.70" y1="453.44" x2="975.60" y2="453.44" stroke="#000" stroke-width="3.0" stroke-linecap="round"/>
</g>
<rect x="90.4" y="1.0" width="891.30" height="891.20" fill="none" stroke="#000" stroke-width="3.0"/>
<line x1="536.10" y1="1.00" x2="536.10" y2="892.20" stroke="#000" stroke-width="3.0" stroke-linecap="butt"/>
<line x1="90.40" y1="446.60" x2="981.70" y2="446.60" stroke="#000" stroke-width="3.0" stroke-linecap="butt"/>
<defs>
<clipPath id="cA"><rect x="88.9" y="-0.5" width="448.70000000000005" height="448.6"/></clipPath>
<clipPath id="cB"><rect x="88.9" y="446.20000000000005" width="448.70000000000005" height="448.6"/></clipPath>
<clipPath id="cC"><rect x="534.6" y="446.20000000000005" width="448.70000000000005" height="448.6"/></clipPath>
</defs>
<g id="lines">
<line x1="79.50" y1="282.01" x2="481.38" y2="-20.00" stroke="#a6a6a6" stroke-width="3.3" clip-path="url(#cA)"/>
<line x1="79.50" y1="727.62" x2="480.05" y2="426.60" stroke="#a6a6a6" stroke-width="3.3" clip-path="url(#cB)"/>
<line x1="525.70" y1="726.80" x2="925.97" y2="426.60" stroke="#a6a6a6" stroke-width="3.3" clip-path="url(#cC)"/>
</g>
<g id="panelA">
<rect x="106.00" y="291.90" width="11.0" height="11.0" fill="#ff7f00"/>
<rect x="140.00" y="263.00" width="11.0" height="11.0" fill="#ff7f00"/>
<rect x="183.80" y="227.70" width="11.0" height="11.0" fill="#ff7f00"/>
<rect x="241.30" y="184.40" width="11.0" height="11.0" fill="#ff7f00"/>
<rect x="430.60" y="71.90" width="11.0" height="11.0" fill="#ff7f00"/>
<polygon points="106.70,251.50 109.16,259.30 116.92,259.38 110.69,264.27 113.02,272.12 106.70,267.35 100.38,272.12 102.71,264.27 96.48,259.38 104.24,259.30" fill="#ff00ff"/>
<polygon points="132.50,227.90 134.96,235.70 142.72,235.78 136.49,240.67 138.82,248.52 132.50,243.75 126.18,248.52 128.51,240.67 122.28,235.78 130.04,235.70" fill="#ff00ff"/>
<polygon points="169.00,194.80 171.46,202.60 179.22,202.68 172.99,207.57 175.32,215.42 169.00,210.65 162.68,215.42 165.01,207.57 158.78,202.68 166.54,202.60" fill="#ff00ff"/>
<polygon points="209.40,162.30 211.86,170.10 219.62,170.18 213.39,175.07 215.72,182.92 209.40,178.15 203.08,182.92 205.41,175.07 199.18,170.18 206.94,170.10" fill="#ff00ff"/>
<polygon points="270.10,122.80 272.56,130.60 280.32,130.68 274.09,135.57 276.42,143.42 270.10,138.65 263.78,143.42 266.11,135.57 259.88,130.68 267.64,130.60" fill="#ff00ff"/>
<polygon points="357.50,60.10 359.96,67.90 367.72,67.98 361.49,72.87 363.82,80.72 357.50,75.95 351.18,80.72 353.51,72.87 347.28,67.98 355.04,67.90" fill="#ff00ff"/>
<polygon points="463.50,14.40 465.96,22.20 473.72,22.28 467.49,27.17 469.82,35.02 463.50,30.25 457.18,35.02 459.51,27.17 453.28,22.28 461.04,22.20" fill="#ff00ff"/>
<polygon points="324.11,123.41 337.09,123.41 330.60,134.78" fill="#ff5500" stroke="#ff5500" stroke-width="2.8" stroke-linejoin="round"/>
<polygon points="333.00,118.31 346.00,118.31 339.50,129.77" fill="#ff5500" stroke="#ff5500" stroke-width="2.8" stroke-linejoin="round"/>
<polygon points="345.22,92.90 358.18,92.90 351.70,104.19" fill="#ff5500" stroke="#ff5500" stroke-width="2.8" stroke-linejoin="round"/>
<rect x="320.00" y="133.00" width="11.0" height="11.0" fill="#ff7f00"/>
<polygon points="424.93,43.52 436.43,37.09 436.43,50.09" fill="#ff0000" stroke="#ff0000" stroke-width="2.8" stroke-linejoin="round"/>
<polygon points="398.65,50.00 407.74,55.25 407.74,65.75 398.65,71.00 389.56,65.75 389.56,55.25" fill="#00ff00"/>
<polygon points="156.50,251.90 165.25,266.90 147.75,266.90" fill="#fff" stroke="#fff" stroke-width="2.2" stroke-linejoin="miter"/>
<polygon points="165.00,243.10 173.75,258.20 156.25,258.20" fill="#fff" stroke="#fff" stroke-width="2.2" stroke-linejoin="miter"/>
<polygon points="176.10,229.20 184.85,244.10 167.35,244.10" fill="#fff" stroke="#fff" stroke-width="2.2" stroke-linejoin="miter"/>
<polygon points="193.00,209.30 201.75,224.20 184.25,224.20" fill="#fff" stroke="#fff" stroke-width="2.2" stroke-linejoin="miter"/>
<polygon points="220.20,181.60 228.95,196.40 211.45,196.40" fill="#fff" stroke="#fff" stroke-width="2.2" stroke-linejoin="miter"/>
<polygon points="259.30,134.20 268.05,149.20 250.55,149.20" fill="#fff" stroke="#fff" stroke-width="2.2" stroke-linejoin="miter"/>
<polygon points="282.00,117.60 290.75,132.50 273.25,132.50" fill="#fff" stroke="#fff" stroke-width="2.2" stroke-linejoin="miter"/>
<polygon points="156.50,251.90 165.25,266.90 147.75,266.90" fill="#ff0000"/>
<polygon points="165.00,243.10 173.75,258.20 156.25,258.20" fill="#ff0000"/>
<polygon points="176.10,229.20 184.85,244.10 167.35,244.10" fill="#ff0000"/>
<polygon points="193.00,209.30 201.75,224.20 184.25,224.20" fill="#ff0000"/>
<polygon points="220.20,181.60 228.95,196.40 211.45,196.40" fill="#ff0000"/>
<polygon points="259.30,134.20 268.05,149.20 250.55,149.20" fill="#ff0000"/>
<polygon points="282.00,117.60 290.75,132.50 273.25,132.50" fill="#ff0000"/>
</g>
<g id="panelB">
<polygon points="308.10,552.73 316.81,544.57 320.19,556.89" fill="#0000ff" stroke="#0000ff" stroke-width="2.8" stroke-linejoin="round"/>
<polygon points="339.50,537.13 348.21,528.97 351.59,541.29" fill="#0000ff" stroke="#0000ff" stroke-width="2.8" stroke-linejoin="round"/>
<polygon points="382.40,515.23 391.11,507.07 394.49,519.39" fill="#0000ff" stroke="#0000ff" stroke-width="2.8" stroke-linejoin="round"/>
<polygon points="449.80,469.43 458.51,461.27 461.89,473.59" fill="#0000ff" stroke="#0000ff" stroke-width="2.8" stroke-linejoin="round"/>
<polygon points="331.63,585.40 344.57,585.40 338.10,596.60" fill="#ff5500" stroke="#ff5500" stroke-width="2.8" stroke-linejoin="round"/>
<polygon points="324.33,555.50 337.27,555.50 330.80,566.70" fill="#ff5500" stroke="#ff5500" stroke-width="2.8" stroke-linejoin="round"/>
<polygon points="339.64,538.09 352.56,538.09 346.10,549.12" fill="#ff5500" stroke="#ff5500" stroke-width="2.8" stroke-linejoin="round"/>
<polygon points="398.20,507.80 407.29,513.05 407.29,523.55 398.20,528.80 389.11,523.55 389.11,513.05" fill="#00ff00"/>
<circle cx="188.1" cy="713.4" r="7.6" fill="#007fff"/>
<polygon points="169.10,696.40 177.85,711.50 160.35,711.50" fill="#fff" stroke="#fff" stroke-width="2.2" stroke-linejoin="miter"/>
<polygon points="179.30,686.90 188.05,701.80 170.55,701.80" fill="#fff" stroke="#fff" stroke-width="2.2" stroke-linejoin="miter"/>
<polygon points="194.30,673.10 203.05,688.20 185.55,688.20" fill="#fff" stroke="#fff" stroke-width="2.2" stroke-linejoin="miter"/>
<polygon points="217.90,648.60 226.65,663.60 209.15,663.60" fill="#fff" stroke="#fff" stroke-width="2.2" stroke-linejoin="miter"/>
<polygon points="253.30,615.70 262.05,630.40 244.55,630.40" fill="#fff" stroke="#fff" stroke-width="2.2" stroke-linejoin="miter"/>
<polygon points="282.10,589.30 290.85,604.30 273.35,604.30" fill="#fff" stroke="#fff" stroke-width="2.2" stroke-linejoin="miter"/>
<polygon points="303.40,574.00 312.15,588.90 294.65,588.90" fill="#fff" stroke="#fff" stroke-width="2.2" stroke-linejoin="miter"/>
<polygon points="169.10,696.40 177.85,711.50 160.35,711.50" fill="#ff0000"/>
<polygon points="179.30,686.90 188.05,701.80 170.55,701.80" fill="#ff0000"/>
<polygon points="194.30,673.10 203.05,688.20 185.55,688.20" fill="#ff0000"/>
<polygon points="217.90,648.60 226.65,663.60 209.15,663.60" fill="#ff0000"/>
<polygon points="253.30,615.70 262.05,630.40 244.55,630.40" fill="#ff0000"/>
<polygon points="282.10,589.30 290.85,604.30 273.35,604.30" fill="#ff0000"/>
<polygon points="303.40,574.00 312.15,588.90 294.65,588.90" fill="#ff0000"/>
</g>
<g id="panelC">
<polygon points="562.1,691.9 570.2,700 562.1,708.1 554.0,700" fill="#ff007f"/>
<polygon points="590.2,680.5 598.3000000000001,688.6 590.2,696.7 582.1,688.6" fill="#ff007f"/>
<polygon points="625.2,656.9 633.3000000000001,665 625.2,673.1 617.1,665" fill="#ff007f"/>
<polygon points="668.6,623.3 676.7,631.4 668.6,639.5 660.5,631.4" fill="#ff007f"/>
<polygon points="650.90,663.20 659.65,678.10 642.15,678.10" fill="#fff" stroke="#fff" stroke-width="2.2" stroke-linejoin="miter"/>
<polygon points="675.20,643.10 683.95,658.00 666.45,658.00" fill="#fff" stroke="#fff" stroke-width="2.2" stroke-linejoin="miter"/>
<polygon points="714.50,608.60 723.25,623.70 705.75,623.70" fill="#fff" stroke="#fff" stroke-width="2.2" stroke-linejoin="miter"/>
<polygon points="727.90,600.70 736.65,615.70 719.15,615.70" fill="#fff" stroke="#fff" stroke-width="2.2" stroke-linejoin="miter"/>
<polygon points="768.20,568.30 776.95,583.30 759.45,583.30" fill="#fff" stroke="#fff" stroke-width="2.2" stroke-linejoin="miter"/>
<polygon points="802.10,538.90 810.85,553.80 793.35,553.80" fill="#fff" stroke="#fff" stroke-width="2.2" stroke-linejoin="miter"/>
<polygon points="650.90,663.20 659.65,678.10 642.15,678.10" fill="#ff0000"/>
<polygon points="675.20,643.10 683.95,658.00 666.45,658.00" fill="#ff0000"/>
<polygon points="714.50,608.60 723.25,623.70 705.75,623.70" fill="#ff0000"/>
<polygon points="727.90,600.70 736.65,615.70 719.15,615.70" fill="#ff0000"/>
<polygon points="768.20,568.30 776.95,583.30 759.45,583.30" fill="#ff0000"/>
<polygon points="802.10,538.90 810.85,553.80 793.35,553.80" fill="#ff0000"/>
</g>
<rect x="115.3" y="28.6" width="147.2" height="39.8" fill="#fff" stroke="#000" stroke-width="2.6"/>
<rect x="115.3" y="473.8" width="147.2" height="39.8" fill="#fff" stroke="#000" stroke-width="2.6"/>
<rect x="561.1" y="473.8" width="147.2" height="39.8" fill="#fff" stroke="#000" stroke-width="2.6"/>
<polygon points="558.20,35.80 567.50,50.90 548.90,50.90" fill="#ff0000"/>
<polygon points="558.40,69.90 560.86,77.70 568.62,77.78 562.39,82.67 564.72,90.52 558.40,85.75 552.08,90.52 554.41,82.67 548.18,77.78 555.94,77.70" fill="#ff00ff"/>
<rect x="553.00" y="111.60" width="11.0" height="11.0" fill="#ff7f00"/>
<polygon points="550.82,152.40 562.19,145.91 562.19,158.89" fill="#ff0000" stroke="#ff0000" stroke-width="2.8" stroke-linejoin="round"/>
<polygon points="551.70,184.96 565.10,184.96 558.40,195.88" fill="#ff5500" stroke="#ff5500" stroke-width="2.8" stroke-linejoin="round"/>
<polygon points="551.90,224.93 560.61,216.77 563.99,229.09" fill="#0000ff" stroke="#0000ff" stroke-width="2.8" stroke-linejoin="round"/>
<polygon points="558.10,249.10 567.19,254.35 567.19,264.85 558.10,270.10 549.01,264.85 549.01,254.35" fill="#00ff00"/>
<circle cx="558.5" cy="295.1" r="7.6" fill="#007fff"/>
<polygon points="558.7,321.90000000000003 566.9000000000001,330.1 558.7,338.3 550.5,330.1" fill="#ff007f"/>
<line x1="557.1" y1="368.3" x2="648.6" y2="368.3" stroke="#a6a6a6" stroke-width="3"/>
<g class="leg" fill="#ff0000">
<text x="580.34" y="52.98" font-size="24.8" fill="#ff0000" textLength="81.27" lengthAdjust="spacingAndGlyphs" stroke="#ff0000" stroke-width="0.85" stroke-linejoin="round">Bootes</text>
<text x="673.94" y="52.98" font-size="24.8" fill="#ff0000" textLength="38.09" lengthAdjust="spacingAndGlyphs" stroke="#ff0000" stroke-width="0.85" stroke-linejoin="round">red</text>
<text x="724.42" y="52.98" font-size="24.8" fill="#ff0000" textLength="14.49" lengthAdjust="spacingAndGlyphs" stroke="#ff0000" stroke-width="0.85" stroke-linejoin="round">2</text>
<text x="741.77" y="53.57" font-size="34.38" fill="#ff0000" textLength="15.40" lengthAdjust="spacingAndGlyphs" stroke="#ff0000" stroke-width="1.0" stroke-linejoin="round">–</text>
<text x="759.93" y="52.98" font-size="24.8" fill="#ff0000" textLength="57.55" lengthAdjust="spacingAndGlyphs" stroke="#ff0000" stroke-width="0.85" stroke-linejoin="round">point</text>
</g>
<g class="leg" fill="#ff00ff">
<text x="580.68" y="88.58" font-size="24.8" fill="#ff00ff" textLength="61.93" lengthAdjust="spacingAndGlyphs" stroke="#ff00ff" stroke-width="0.85" stroke-linejoin="round">SDSS</text>
<text x="654.56" y="88.58" font-size="24.8" fill="#ff00ff" textLength="53.55" lengthAdjust="spacingAndGlyphs" stroke="#ff00ff" stroke-width="0.85" stroke-linejoin="round">Main</text>
<text x="720.60" y="88.58" font-size="24.8" fill="#ff00ff" textLength="14.49" lengthAdjust="spacingAndGlyphs" stroke="#ff00ff" stroke-width="0.85" stroke-linejoin="round">2</text>
<text x="737.95" y="89.17" font-size="34.38" fill="#ff00ff" textLength="15.40" lengthAdjust="spacingAndGlyphs" stroke="#ff00ff" stroke-width="1.0" stroke-linejoin="round">–</text>
<text x="756.11" y="88.58" font-size="24.8" fill="#ff00ff" textLength="57.55" lengthAdjust="spacingAndGlyphs" stroke="#ff00ff" stroke-width="0.85" stroke-linejoin="round">point</text>
</g>
<g class="leg" fill="#ff7f00">
<text x="580.93" y="124.17" font-size="24.8" fill="#ff7f00" textLength="90.74" lengthAdjust="spacingAndGlyphs" stroke="#ff7f00" stroke-width="0.85" stroke-linejoin="round">2dFGRS</text>
<text x="683.28" y="124.17" font-size="24.8" fill="#ff7f00" textLength="26.34" lengthAdjust="spacingAndGlyphs" stroke="#ff7f00" stroke-width="0.85" stroke-linejoin="round">All</text>
<text x="722.13" y="124.17" font-size="24.8" fill="#ff7f00" textLength="14.49" lengthAdjust="spacingAndGlyphs" stroke="#ff7f00" stroke-width="0.85" stroke-linejoin="round">2</text>
<text x="739.48" y="124.77" font-size="34.38" fill="#ff7f00" textLength="15.40" lengthAdjust="spacingAndGlyphs" stroke="#ff7f00" stroke-width="1.0" stroke-linejoin="round">–</text>
<text x="757.64" y="124.17" font-size="24.8" fill="#ff7f00" textLength="57.55" lengthAdjust="spacingAndGlyphs" stroke="#ff7f00" stroke-width="0.85" stroke-linejoin="round">point</text>
<text x="828.06" y="124.17" font-size="24.8" fill="#ff7f00" textLength="44.41" lengthAdjust="spacingAndGlyphs" stroke="#ff7f00" stroke-width="0.85" stroke-linejoin="round">CLF</text>
</g>
<g class="leg" fill="#ff0000">
<text x="580.68" y="159.78" font-size="24.8" fill="#ff0000" textLength="61.93" lengthAdjust="spacingAndGlyphs" stroke="#ff0000" stroke-width="0.85" stroke-linejoin="round">SDSS</text>
<text x="654.76" y="159.78" font-size="24.8" fill="#ff0000" textLength="45.77" lengthAdjust="spacingAndGlyphs" stroke="#ff0000" stroke-width="0.85" stroke-linejoin="round">LRG</text>
<text x="712.20" y="159.78" font-size="24.8" fill="#ff0000" textLength="14.49" lengthAdjust="spacingAndGlyphs" stroke="#ff0000" stroke-width="0.85" stroke-linejoin="round">2</text>
<text x="729.55" y="160.37" font-size="34.38" fill="#ff0000" textLength="15.40" lengthAdjust="spacingAndGlyphs" stroke="#ff0000" stroke-width="1.0" stroke-linejoin="round">–</text>
<text x="747.70" y="159.78" font-size="24.8" fill="#ff0000" textLength="57.55" lengthAdjust="spacingAndGlyphs" stroke="#ff0000" stroke-width="0.85" stroke-linejoin="round">point</text>
</g>
<g class="leg" fill="#ff5500">
<text x="580.68" y="195.38" font-size="24.8" fill="#ff5500" textLength="61.93" lengthAdjust="spacingAndGlyphs" stroke="#ff5500" stroke-width="0.85" stroke-linejoin="round">SDSS</text>
<text x="654.76" y="195.38" font-size="24.8" fill="#ff5500" textLength="45.77" lengthAdjust="spacingAndGlyphs" stroke="#ff5500" stroke-width="0.85" stroke-linejoin="round">LRG</text>
<text x="712.55" y="195.38" font-size="24.8" fill="#ff5500" textLength="80.09" lengthAdjust="spacingAndGlyphs" stroke="#ff5500" stroke-width="0.85" stroke-linejoin="round">photoz</text>
<text x="804.64" y="195.38" font-size="24.8" fill="#ff5500" textLength="14.49" lengthAdjust="spacingAndGlyphs" stroke="#ff5500" stroke-width="0.85" stroke-linejoin="round">2</text>
<text x="821.99" y="195.97" font-size="34.38" fill="#ff5500" textLength="15.40" lengthAdjust="spacingAndGlyphs" stroke="#ff5500" stroke-width="1.0" stroke-linejoin="round">–</text>
<text x="840.15" y="195.38" font-size="24.8" fill="#ff5500" textLength="57.55" lengthAdjust="spacingAndGlyphs" stroke="#ff5500" stroke-width="0.85" stroke-linejoin="round">point</text>
<text x="911.03" y="195.38" font-size="24.8" fill="#ff5500" textLength="55.22" lengthAdjust="spacingAndGlyphs" stroke="#ff5500" stroke-width="0.85" stroke-linejoin="round">(PW)</text>
</g>
<g class="leg" fill="#0000ff">
<text x="580.68" y="230.97" font-size="24.8" fill="#0000ff" textLength="61.93" lengthAdjust="spacingAndGlyphs" stroke="#0000ff" stroke-width="0.85" stroke-linejoin="round">SDSS</text>
<text x="654.76" y="230.97" font-size="24.8" fill="#0000ff" textLength="45.77" lengthAdjust="spacingAndGlyphs" stroke="#0000ff" stroke-width="0.85" stroke-linejoin="round">LRG</text>
<text x="712.55" y="230.97" font-size="24.8" fill="#0000ff" textLength="80.09" lengthAdjust="spacingAndGlyphs" stroke="#0000ff" stroke-width="0.85" stroke-linejoin="round">photoz</text>
<text x="804.64" y="230.97" font-size="24.8" fill="#0000ff" textLength="14.49" lengthAdjust="spacingAndGlyphs" stroke="#0000ff" stroke-width="0.85" stroke-linejoin="round">2</text>
<text x="821.99" y="231.57" font-size="34.38" fill="#0000ff" textLength="15.40" lengthAdjust="spacingAndGlyphs" stroke="#0000ff" stroke-width="1.0" stroke-linejoin="round">–</text>
<text x="840.15" y="230.97" font-size="24.8" fill="#0000ff" textLength="57.55" lengthAdjust="spacingAndGlyphs" stroke="#0000ff" stroke-width="0.85" stroke-linejoin="round">point</text>
<text x="910.96" y="230.97" font-size="24.8" fill="#0000ff" textLength="66.04" lengthAdjust="spacingAndGlyphs" stroke="#0000ff" stroke-width="0.85" stroke-linejoin="round">(BCL)</text>
</g>
<g class="leg" fill="#00ff00">
<text x="580.95" y="266.57" font-size="24.8" fill="#00ff00" textLength="73.94" lengthAdjust="spacingAndGlyphs" stroke="#00ff00" stroke-width="0.85" stroke-linejoin="round">2SLAQ</text>
<text x="666.99" y="266.57" font-size="24.8" fill="#00ff00" textLength="45.77" lengthAdjust="spacingAndGlyphs" stroke="#00ff00" stroke-width="0.85" stroke-linejoin="round">LRG</text>
<text x="724.42" y="266.57" font-size="24.8" fill="#00ff00" textLength="14.49" lengthAdjust="spacingAndGlyphs" stroke="#00ff00" stroke-width="0.85" stroke-linejoin="round">2</text>
<text x="741.77" y="267.17" font-size="34.38" fill="#00ff00" textLength="15.40" lengthAdjust="spacingAndGlyphs" stroke="#00ff00" stroke-width="1.0" stroke-linejoin="round">–</text>
<text x="759.93" y="266.57" font-size="24.8" fill="#00ff00" textLength="57.55" lengthAdjust="spacingAndGlyphs" stroke="#00ff00" stroke-width="0.85" stroke-linejoin="round">point</text>
</g>
<g class="leg" fill="#007fff">
<text x="580.59" y="302.18" font-size="24.8" fill="#007fff" textLength="84.20" lengthAdjust="spacingAndGlyphs" stroke="#007fff" stroke-width="0.85" stroke-linejoin="round">COMBO</text>
<text x="666.90" y="302.77" font-size="34.38" fill="#007fff" textLength="15.40" lengthAdjust="spacingAndGlyphs" stroke="#007fff" stroke-width="1.0" stroke-linejoin="round">–</text>
<text x="685.89" y="302.18" font-size="24.8" fill="#007fff" textLength="29.60" lengthAdjust="spacingAndGlyphs" stroke="#007fff" stroke-width="0.85" stroke-linejoin="round">17</text>
<text x="727.42" y="302.18" font-size="24.8" fill="#007fff" textLength="38.09" lengthAdjust="spacingAndGlyphs" stroke="#007fff" stroke-width="0.85" stroke-linejoin="round">red</text>
<text x="777.90" y="302.18" font-size="24.8" fill="#007fff" textLength="14.49" lengthAdjust="spacingAndGlyphs" stroke="#007fff" stroke-width="0.85" stroke-linejoin="round">2</text>
<text x="795.25" y="302.77" font-size="34.38" fill="#007fff" textLength="15.40" lengthAdjust="spacingAndGlyphs" stroke="#007fff" stroke-width="1.0" stroke-linejoin="round">–</text>
<text x="813.41" y="302.18" font-size="24.8" fill="#007fff" textLength="57.55" lengthAdjust="spacingAndGlyphs" stroke="#007fff" stroke-width="0.85" stroke-linejoin="round">point</text>
</g>
<g class="leg" fill="#ff007f">
<text x="580.59" y="337.77" font-size="24.8" fill="#ff007f" textLength="75.66" lengthAdjust="spacingAndGlyphs" stroke="#ff007f" stroke-width="0.85" stroke-linejoin="round">DEEP2</text>
<text x="669.33" y="337.77" font-size="24.8" fill="#ff007f" textLength="58.02" lengthAdjust="spacingAndGlyphs" stroke="#ff007f" stroke-width="0.85" stroke-linejoin="round">main</text>
<text x="739.70" y="337.77" font-size="24.8" fill="#ff007f" textLength="14.49" lengthAdjust="spacingAndGlyphs" stroke="#ff007f" stroke-width="0.85" stroke-linejoin="round">2</text>
<text x="757.05" y="338.37" font-size="34.38" fill="#ff007f" textLength="15.40" lengthAdjust="spacingAndGlyphs" stroke="#ff007f" stroke-width="1.0" stroke-linejoin="round">–</text>
<text x="775.21" y="337.77" font-size="24.8" fill="#ff007f" textLength="57.55" lengthAdjust="spacingAndGlyphs" stroke="#ff007f" stroke-width="0.85" stroke-linejoin="round">point</text>
</g>
<text x="669.95" y="376.18" font-size="24.8" fill="#a6a6a6" textLength="13.16" lengthAdjust="spacingAndGlyphs" stroke="#a6a6a6" stroke-width="0.85" stroke-linejoin="round">n</text>
<text x="683.94" y="384.18" font-size="19" fill="#a6a6a6" textLength="11.69" lengthAdjust="spacingAndGlyphs" stroke="#a6a6a6" stroke-width="0.85" stroke-linejoin="round">g</text>
<path d="M723.6 364.9 C721.3 364.9 720 366.5 718.6 368.5 C717.2 370.5 716 372.1 713.9 372.1 C711.9 372.1 710.5 370.7 710.5 368.7 C710.5 366.7 711.9 365.3 713.9 365.3 C716 365.3 717.2 366.9 718.6 368.9 C720 370.9 721.3 372.5 723.6 372.5" fill="none" stroke="#a6a6a6" stroke-width="3" stroke-linecap="round" stroke-linejoin="round"/>
<text x="738.53" y="376.47" font-size="24.8" fill="#a6a6a6" textLength="18.24" lengthAdjust="spacingAndGlyphs" stroke="#a6a6a6" stroke-width="0.85" stroke-linejoin="round">M</text>
<text x="758.50" y="366.16" font-size="31.39" fill="#a6a6a6" textLength="11.91" lengthAdjust="spacingAndGlyphs" stroke="#a6a6a6" stroke-width="1.0" stroke-linejoin="round">–</text>
<text x="773.52" y="364.25" font-size="19.3" fill="#a6a6a6" textLength="6.06" lengthAdjust="spacingAndGlyphs" stroke="#a6a6a6" stroke-width="1.3" stroke-linejoin="round">1</text>
<text x="782.28" y="364.27" font-size="19.3" fill="#a6a6a6" textLength="7.73" lengthAdjust="spacingAndGlyphs" stroke="#a6a6a6" stroke-width="0.85" stroke-linejoin="round">.</text>
<text x="789.82" y="364.25" font-size="19.3" fill="#a6a6a6" textLength="6.06" lengthAdjust="spacingAndGlyphs" stroke="#a6a6a6" stroke-width="1.3" stroke-linejoin="round">1</text>
<text x="801.98" y="364.25" font-size="19.3" fill="#a6a6a6" textLength="6.32" lengthAdjust="spacingAndGlyphs" stroke="#a6a6a6" stroke-width="1.3" stroke-linejoin="round">1</text>
<text x="125.72" y="57.60" font-size="25.5" fill="#000" textLength="38.36" lengthAdjust="spacingAndGlyphs" stroke="#000" stroke-width="0.8" stroke-linejoin="round">0.0</text>
<text x="164.55" y="59.45" font-size="27.8" fill="#000" textLength="17.79" lengthAdjust="spacingAndGlyphs" stroke="#000" stroke-width="0.9" stroke-linejoin="round">&lt;</text>
<text x="183.52" y="57.60" font-size="21.4" fill="#000" textLength="12.08" lengthAdjust="spacingAndGlyphs" stroke="#000" stroke-width="0.8" stroke-linejoin="round">z</text>
<text x="195.85" y="59.45" font-size="27.8" fill="#000" textLength="17.79" lengthAdjust="spacingAndGlyphs" stroke="#000" stroke-width="0.9" stroke-linejoin="round">&lt;</text>
<text x="213.99" y="57.60" font-size="25.5" fill="#000" textLength="39.65" lengthAdjust="spacingAndGlyphs" stroke="#000" stroke-width="0.8" stroke-linejoin="round">0.4</text>
<text x="125.73" y="502.80" font-size="25.5" fill="#000" textLength="38.07" lengthAdjust="spacingAndGlyphs" stroke="#000" stroke-width="0.8" stroke-linejoin="round">0.4</text>
<text x="164.55" y="504.65" font-size="27.8" fill="#000" textLength="17.79" lengthAdjust="spacingAndGlyphs" stroke="#000" stroke-width="0.9" stroke-linejoin="round">&lt;</text>
<text x="183.52" y="502.80" font-size="21.4" fill="#000" textLength="12.08" lengthAdjust="spacingAndGlyphs" stroke="#000" stroke-width="0.8" stroke-linejoin="round">z</text>
<text x="195.85" y="504.65" font-size="27.8" fill="#000" textLength="17.79" lengthAdjust="spacingAndGlyphs" stroke="#000" stroke-width="0.9" stroke-linejoin="round">&lt;</text>
<text x="213.97" y="502.80" font-size="25.5" fill="#000" textLength="40.09" lengthAdjust="spacingAndGlyphs" stroke="#000" stroke-width="0.8" stroke-linejoin="round">0.6</text>
<text x="571.52" y="502.80" font-size="25.5" fill="#000" textLength="38.48" lengthAdjust="spacingAndGlyphs" stroke="#000" stroke-width="0.8" stroke-linejoin="round">0.8</text>
<text x="610.35" y="504.65" font-size="27.8" fill="#000" textLength="17.79" lengthAdjust="spacingAndGlyphs" stroke="#000" stroke-width="0.9" stroke-linejoin="round">&lt;</text>
<text x="629.32" y="502.80" font-size="21.4" fill="#000" textLength="12.08" lengthAdjust="spacingAndGlyphs" stroke="#000" stroke-width="0.8" stroke-linejoin="round">z</text>
<text x="641.65" y="504.65" font-size="27.8" fill="#000" textLength="17.79" lengthAdjust="spacingAndGlyphs" stroke="#000" stroke-width="0.9" stroke-linejoin="round">&lt;</text>
<text x="661.44" y="502.80" font-size="25.5" fill="#000" textLength="37.62" lengthAdjust="spacingAndGlyphs" stroke="#000" stroke-width="0.8" stroke-linejoin="round">1.0</text>
<text x="103.31" y="926.90" font-size="30.2" fill="#000" textLength="42.28" lengthAdjust="spacingAndGlyphs" stroke="#000" stroke-width="1.0" stroke-linejoin="round">0.0</text>
<text x="149.54" y="926.90" font-size="30.2" fill="#000" textLength="8.13" lengthAdjust="spacingAndGlyphs" stroke="#000" stroke-width="1.5" stroke-linejoin="round">1</text>
<text x="256.24" y="926.90" font-size="30.2" fill="#000" textLength="8.13" lengthAdjust="spacingAndGlyphs" stroke="#000" stroke-width="1.5" stroke-linejoin="round">1</text>
<text x="270.13" y="926.90" font-size="30.2" fill="#000" textLength="16.64" lengthAdjust="spacingAndGlyphs" stroke="#000" stroke-width="1.0" stroke-linejoin="round">0</text>
<text x="289.10" y="914.28" font-size="29.90" fill="#000" textLength="12.81" lengthAdjust="spacingAndGlyphs" stroke="#000" stroke-width="1.0" stroke-linejoin="round">–</text>
<text x="304.04" y="913.70" font-size="23.3" fill="#000" textLength="12.55" lengthAdjust="spacingAndGlyphs" stroke="#000" stroke-width="1.0" stroke-linejoin="round">3</text>
<text x="404.94" y="926.90" font-size="30.2" fill="#000" textLength="8.13" lengthAdjust="spacingAndGlyphs" stroke="#000" stroke-width="1.5" stroke-linejoin="round">1</text>
<text x="418.83" y="926.90" font-size="30.2" fill="#000" textLength="16.64" lengthAdjust="spacingAndGlyphs" stroke="#000" stroke-width="1.0" stroke-linejoin="round">0</text>
<text x="437.80" y="914.28" font-size="29.90" fill="#000" textLength="12.81" lengthAdjust="spacingAndGlyphs" stroke="#000" stroke-width="1.0" stroke-linejoin="round">–</text>
<text x="453.11" y="913.70" font-size="23.3" fill="#000" textLength="11.81" lengthAdjust="spacingAndGlyphs" stroke="#000" stroke-width="1.0" stroke-linejoin="round">4</text>
<text x="549.01" y="926.90" font-size="30.2" fill="#000" textLength="42.28" lengthAdjust="spacingAndGlyphs" stroke="#000" stroke-width="1.0" stroke-linejoin="round">0.0</text>
<text x="595.24" y="926.90" font-size="30.2" fill="#000" textLength="8.13" lengthAdjust="spacingAndGlyphs" stroke="#000" stroke-width="1.5" stroke-linejoin="round">1</text>
<text x="701.94" y="926.90" font-size="30.2" fill="#000" textLength="8.13" lengthAdjust="spacingAndGlyphs" stroke="#000" stroke-width="1.5" stroke-linejoin="round">1</text>
<text x="715.83" y="926.90" font-size="30.2" fill="#000" textLength="16.64" lengthAdjust="spacingAndGlyphs" stroke="#000" stroke-width="1.0" stroke-linejoin="round">0</text>
<text x="734.80" y="914.28" font-size="29.90" fill="#000" textLength="12.81" lengthAdjust="spacingAndGlyphs" stroke="#000" stroke-width="1.0" stroke-linejoin="round">–</text>
<text x="749.74" y="913.70" font-size="23.3" fill="#000" textLength="12.55" lengthAdjust="spacingAndGlyphs" stroke="#000" stroke-width="1.0" stroke-linejoin="round">3</text>
<text x="850.64" y="926.90" font-size="30.2" fill="#000" textLength="8.13" lengthAdjust="spacingAndGlyphs" stroke="#000" stroke-width="1.5" stroke-linejoin="round">1</text>
<text x="864.53" y="926.90" font-size="30.2" fill="#000" textLength="16.64" lengthAdjust="spacingAndGlyphs" stroke="#000" stroke-width="1.0" stroke-linejoin="round">0</text>
<text x="883.50" y="914.28" font-size="29.90" fill="#000" textLength="12.81" lengthAdjust="spacingAndGlyphs" stroke="#000" stroke-width="1.0" stroke-linejoin="round">–</text>
<text x="898.81" y="913.70" font-size="23.3" fill="#000" textLength="11.81" lengthAdjust="spacingAndGlyphs" stroke="#000" stroke-width="1.0" stroke-linejoin="round">4</text>
<text x="-134.27" y="0.00" font-size="27.3" fill="#000" textLength="6.71" lengthAdjust="spacingAndGlyphs" stroke="#000" stroke-width="1.5" stroke-linejoin="round" transform="translate(73.70 0) rotate(-90)">1</text>
<text x="-122.07" y="0.00" font-size="27.3" fill="#000" textLength="15.24" lengthAdjust="spacingAndGlyphs" stroke="#000" stroke-width="1.0" stroke-linejoin="round" transform="translate(73.70 0) rotate(-90)">0</text>
<text x="-105.89" y="0.00" font-size="21.2" fill="#000" textLength="21.76" lengthAdjust="spacingAndGlyphs" stroke="#000" stroke-width="1.0" stroke-linejoin="round" transform="translate(61.60 0) rotate(-90)">14</text>
<text x="-582.24" y="0.00" font-size="29.2" fill="#000" textLength="7.22" lengthAdjust="spacingAndGlyphs" stroke="#000" stroke-width="1.5" stroke-linejoin="round" transform="translate(71.70 0) rotate(-90)">1</text>
<text x="-568.97" y="0.00" font-size="29.2" fill="#000" textLength="16.64" lengthAdjust="spacingAndGlyphs" stroke="#000" stroke-width="1.0" stroke-linejoin="round" transform="translate(71.70 0) rotate(-90)">0</text>
<text x="-550.38" y="0.00" font-size="23.3" fill="#000" textLength="24.53" lengthAdjust="spacingAndGlyphs" stroke="#000" stroke-width="1.0" stroke-linejoin="round" transform="translate(58.50 0) rotate(-90)">14</text>
<text x="-258.47" y="0.00" font-size="27.3" fill="#000" textLength="6.71" lengthAdjust="spacingAndGlyphs" stroke="#000" stroke-width="1.5" stroke-linejoin="round" transform="translate(73.70 0) rotate(-90)">1</text>
<text x="-246.27" y="0.00" font-size="27.3" fill="#000" textLength="15.24" lengthAdjust="spacingAndGlyphs" stroke="#000" stroke-width="1.0" stroke-linejoin="round" transform="translate(73.70 0) rotate(-90)">0</text>
<text x="-230.11" y="0.00" font-size="21.2" fill="#000" textLength="22.08" lengthAdjust="spacingAndGlyphs" stroke="#000" stroke-width="1.0" stroke-linejoin="round" transform="translate(61.60 0) rotate(-90)">13</text>
<text x="-706.44" y="0.00" font-size="29.2" fill="#000" textLength="7.22" lengthAdjust="spacingAndGlyphs" stroke="#000" stroke-width="1.5" stroke-linejoin="round" transform="translate(71.70 0) rotate(-90)">1</text>
<text x="-693.17" y="0.00" font-size="29.2" fill="#000" textLength="16.64" lengthAdjust="spacingAndGlyphs" stroke="#000" stroke-width="1.0" stroke-linejoin="round" transform="translate(71.70 0) rotate(-90)">0</text>
<text x="-674.60" y="0.00" font-size="23.3" fill="#000" textLength="24.89" lengthAdjust="spacingAndGlyphs" stroke="#000" stroke-width="1.0" stroke-linejoin="round" transform="translate(58.50 0) rotate(-90)">13</text>
<text x="-382.67" y="0.00" font-size="27.3" fill="#000" textLength="6.71" lengthAdjust="spacingAndGlyphs" stroke="#000" stroke-width="1.5" stroke-linejoin="round" transform="translate(73.70 0) rotate(-90)">1</text>
<text x="-370.47" y="0.00" font-size="27.3" fill="#000" textLength="15.24" lengthAdjust="spacingAndGlyphs" stroke="#000" stroke-width="1.0" stroke-linejoin="round" transform="translate(73.70 0) rotate(-90)">0</text>
<text x="-354.32" y="0.00" font-size="21.2" fill="#000" textLength="22.23" lengthAdjust="spacingAndGlyphs" stroke="#000" stroke-width="1.0" stroke-linejoin="round" transform="translate(61.60 0) rotate(-90)">12</text>
<text x="-830.64" y="0.00" font-size="29.2" fill="#000" textLength="7.22" lengthAdjust="spacingAndGlyphs" stroke="#000" stroke-width="1.5" stroke-linejoin="round" transform="translate(71.70 0) rotate(-90)">1</text>
<text x="-817.37" y="0.00" font-size="29.2" fill="#000" textLength="16.64" lengthAdjust="spacingAndGlyphs" stroke="#000" stroke-width="1.0" stroke-linejoin="round" transform="translate(71.70 0) rotate(-90)">0</text>
<text x="-798.82" y="0.00" font-size="23.3" fill="#000" textLength="25.05" lengthAdjust="spacingAndGlyphs" stroke="#000" stroke-width="1.0" stroke-linejoin="round" transform="translate(58.50 0) rotate(-90)">12</text>
<text x="364.42" y="982.90" font-size="28.8" fill="#000" textLength="80.14" lengthAdjust="spacingAndGlyphs" stroke="#000" stroke-width="1.0" stroke-linejoin="round">Space</text>
<text x="458.71" y="982.90" font-size="28.8" fill="#000" textLength="93.25" lengthAdjust="spacingAndGlyphs" stroke="#000" stroke-width="1.0" stroke-linejoin="round">Density</text>
<path d="M576.69 960.52 L574.98 962.24 L573.27 964.80 L571.56 968.22 L570.70 972.50 L570.70 975.91 L571.56 980.19 L573.27 983.61 L574.98 986.17 L576.69 987.88" fill="none" stroke="#000" stroke-width="3.0" stroke-linecap="round" stroke-linejoin="round"/>
<text x="579.64" y="982.90" font-size="28.8" fill="#000" textLength="15.69" lengthAdjust="spacingAndGlyphs" stroke="#000" stroke-width="1.0" stroke-linejoin="round">h</text>
<text x="596.32" y="969.00" font-size="23.1" fill="#000" textLength="12.79" lengthAdjust="spacingAndGlyphs" stroke="#000" stroke-width="1.0" stroke-linejoin="round">3</text>
<text x="622.47" y="982.90" font-size="28.8" fill="#000" textLength="51.35" lengthAdjust="spacingAndGlyphs" stroke="#000" stroke-width="1.0" stroke-linejoin="round">Mpc</text>
<text x="676.90" y="969.78" font-size="29.90" fill="#000" textLength="12.71" lengthAdjust="spacingAndGlyphs" stroke="#000" stroke-width="1.0" stroke-linejoin="round">–</text>
<text x="692.57" y="969.00" font-size="23.1" fill="#000" textLength="10.67" lengthAdjust="spacingAndGlyphs" stroke="#000" stroke-width="1.0" stroke-linejoin="round">3</text>
<path d="M706.20 960.52 L707.91 962.24 L709.62 964.80 L711.33 968.22 L712.18 972.50 L712.18 975.91 L711.33 980.19 L709.62 983.61 L707.91 986.17 L706.20 987.88" fill="none" stroke="#000" stroke-width="3.0" stroke-linecap="round" stroke-linejoin="round"/>
<text x="-524.26" y="0.00" font-size="28.8" fill="#000" textLength="19.92" lengthAdjust="spacingAndGlyphs" stroke="#000" stroke-width="1.0" stroke-linejoin="round" transform="translate(29.70 0) rotate(-90)">M</text>
<text x="-502.85" y="0.00" font-size="23.1" fill="#000" textLength="6.97" lengthAdjust="spacingAndGlyphs" stroke="#000" stroke-width="1.0" stroke-linejoin="round" transform="translate(40.50 0) rotate(-90)">1</text>
<path d="M7.32 469.22 L9.04 470.93 L11.60 472.63 L15.02 474.35 L19.30 475.20 L22.71 475.20 L26.99 474.35 L30.41 472.63 L32.98 470.93 L34.69 469.22" fill="none" stroke="#000" stroke-width="3.0" stroke-linecap="round" stroke-linejoin="round"/>
<text x="-464.43" y="0.00" font-size="28.8" fill="#000" textLength="13.05" lengthAdjust="spacingAndGlyphs" stroke="#000" stroke-width="1.0" stroke-linejoin="round" transform="translate(29.70 0) rotate(-90)">h</text>
<text x="-447.90" y="0.00" font-size="29.90" fill="#000" textLength="12.91" lengthAdjust="spacingAndGlyphs" stroke="#000" stroke-width="1.0" stroke-linejoin="round" transform="translate(17.88 0) rotate(-90)">–</text>
<text x="-431.74" y="0.00" font-size="23.1" fill="#000" textLength="7.61" lengthAdjust="spacingAndGlyphs" stroke="#000" stroke-width="1.0" stroke-linejoin="round" transform="translate(15.90 0) rotate(-90)">1</text>
<text x="-406.04" y="0.00" font-size="28.8" fill="#000" textLength="19.68" lengthAdjust="spacingAndGlyphs" stroke="#000" stroke-width="1.0" stroke-linejoin="round" transform="translate(29.70 0) rotate(-90)">M</text>
<circle cx="32.6" cy="377.2" r="6.8" fill="none" stroke="#000" stroke-width="3"/><circle cx="32.6" cy="377.2" r="2.5" fill="#000"/>
<path d="M7.32 365.80 L9.04 364.09 L11.60 362.38 L15.02 360.67 L19.30 359.81 L22.71 359.81 L26.99 360.67 L30.41 362.38 L32.98 364.09 L34.69 365.80" fill="none" stroke="#000" stroke-width="3.0" stroke-linecap="round" stroke-linejoin="round"/>
</svg>
</body></html>
